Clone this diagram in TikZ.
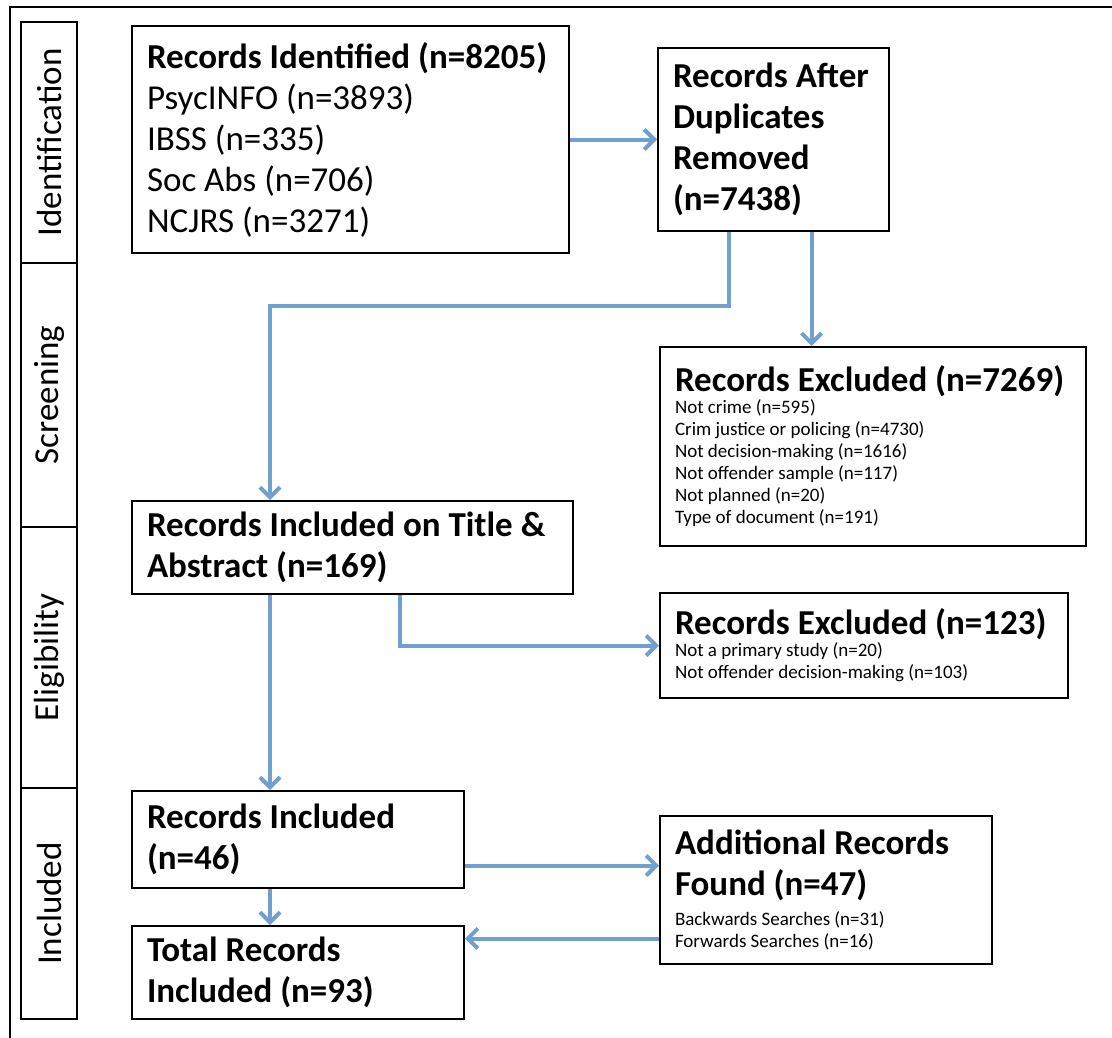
\documentclass[tikz,border=0pt]{standalone}
\usepackage{fontspec}
\setmainfont{Carlito}
\usetikzlibrary{positioning,arrows.meta}
\definecolor{flowblue}{RGB}{113,160,207}
\newcommand{\bigtxt}{\fontsize{35}{41}\selectfont}
\newcommand{\smalltxt}{\fontsize{19}{22}\selectfont}

\begin{document}
\begin{tikzpicture}[x=1pt,y=-1pt,box/.style={draw, line width=2pt, anchor=north west, align=flush left, inner xsep=15pt, inner ysep=0pt, font=\bigtxt},phase/.style={draw, line width=2pt, rotate=90, minimum height=56pt, inner sep=0pt, font=\bigtxt},flow/.style={draw=flowblue, line width=4pt, -{Straight Barb[length=10pt,width=20pt]}}]
\useasboundingbox (0,0) rectangle (1112,1037);
\draw[line width=2.5pt] (10,7) rectangle (1140,1060);

\node[phase, minimum width=241pt] (idph) at (49,142.5) {Identification};
\node[phase, minimum width=264pt] (scph) at (49,395) {Screening};
\node[phase, minimum width=261pt] (elph) at (49,657.5) {Eligibility};
\node[phase, minimum width=231pt] (inph) at (49,903.5) {Included};

\node[box, text width=407pt, minimum height=227pt] (ident) at (131,25) {\textbf{Records Identified (n=8205)}\\PsycINFO (n=3893)\\IBSS (n=335)\\Soc Abs (n=706)\\NCJRS (n=3271)};
\node[box, text width=201pt, minimum height=183pt] (dup) at (657,47) {\bfseries Records After\\Duplicates\\Removed\\(n=7438)};
\node[box, text width=396pt, minimum height=199pt] (excl1) at (659,346) {{\bfseries Records Excluded (n=7269)\par}\smalltxt Not crime (n=595)\\Crim justice or policing (n=4730)\\Not decision-making (n=1616)\\Not offender sample (n=117)\\Not planned (n=20)\\Type of document (n=191)\par};
\node[box, text width=411pt, minimum height=93pt] (title) at (131,500) {\bfseries Records Included on Title \&\\Abstract (n=169)};
\node[box, text width=378pt, minimum height=105pt] (excl2) at (659,592) {{\bfseries Records Excluded (n=123)\par}\smalltxt Not a primary study (n=20)\\Not offender decision-making (n=103)\par};
\node[box, text width=302pt, minimum height=97pt] (incl) at (131,790) {\bfseries Records Included\\(n=46)};
\node[box, text width=302pt, minimum height=148pt] (addl) at (659,815) {{\bfseries Additional Records\\Found (n=47)\par}\vspace{8pt}\smalltxt Backwards Searches (n=31)\\Forwards Searches (n=16)\par};
\node[box, text width=302pt, minimum height=93pt] (total) at (131,925) {\bfseries Total Records\\Included (n=93)};

\coordinate (lane) at (270,0);
\draw[flow] (ident) -- (dup);
\draw[flow] ([xshift=38pt]dup.south) -- ([xshift=38pt]dup.south |- excl1.north);
\draw[flow] ([xshift=-45pt]dup.south) -- ++(0,74) -| (title.north -| lane);
\draw[flow] ([xshift=47pt]title.south) |- (excl2.west);
\draw[flow] (title.south -| lane) -- (incl.north -| lane);
\draw[flow] ([yshift=-26pt]incl.east) -- ([yshift=-26pt]incl.east -| addl.west);
\draw[flow] ([yshift=34pt]total.east -| addl.west) -- ([yshift=34pt]total.east);
\draw[flow] (incl.south -| lane) -- (total.north -| lane);
\end{tikzpicture}
\end{document}
